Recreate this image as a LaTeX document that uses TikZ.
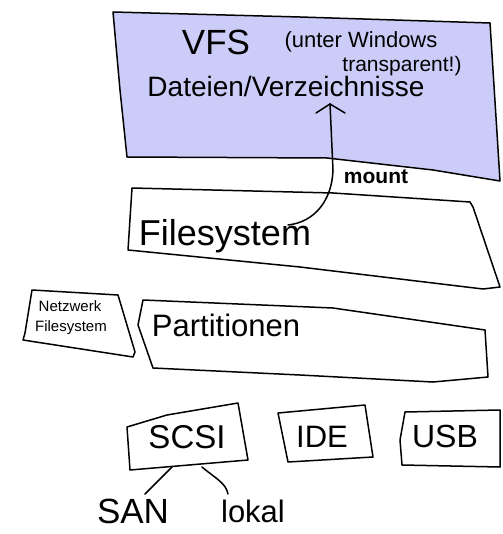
\documentclass[tikz,border=0pt]{standalone}
\usepackage{fontspec}
\setmainfont{Liberation Sans}
\usetikzlibrary{arrows.meta}
\definecolor{vfsfill}{RGB}{204,204,248}
\tikzset{
  box/.style={draw=black, line width=1.5pt, line join=round},
  lbl/.style={inner sep=0pt, text=black},
  link/.style={draw=black, line width=1.5pt, line cap=round, line join=round},
}
\begin{document}
\begin{tikzpicture}[x=1pt,y=-1pt]
\useasboundingbox (0,0) rectangle (502,534);
% boxes
\draw[box, fill=vfsfill] (113,12) -- (300,17) -- (490,23) -- (497,133) -- (500,181)
  -- (433,170) -- (327,158) -- (127,157) -- (120,90) -- cycle;
\draw[box] (132,188) -- (333,193) -- (470,202) -- (473,207) -- (500,287)
  -- (483,289) -- (300,267) -- (128,250) -- cycle;
\draw[box] (32,290) -- (118,295) -- (135,352) -- (133,357) -- (23,340) -- (25,333) -- cycle;
\draw[box] (143,300) -- (333,308) -- (485,330) -- (488,377) -- (433,382) -- (300,375)
  -- (153,368) -- (138,325) -- cycle;
\draw[box] (127,427) -- (167,415) -- (238,403) -- (248,460) -- (130,470) -- cycle;
\draw[box] (278,413) -- (365,405) -- (373,457) -- (288,462) -- cycle;
\draw[box] (405,412) -- (500,410) -- (500,467) -- (402,465) -- (400,440) -- cycle;
% texts
\node[lbl, font=\fontsize{35}{35}\selectfont] (vfs) at (216,42) {VFS};
\node[lbl, font=\fontsize{22}{22}\selectfont] (unter) at (361,42) {(unter Windows};
\node[lbl, font=\fontsize{21}{21}\selectfont] (transp) at (402,66) {transparent!)};
\node[lbl, font=\fontsize{28}{28}\selectfont] (dv) at (286,86) {Dateien/Verzeichnisse};
\node[lbl, font=\bfseries\fontsize{21}{21}\selectfont] (mount) at (376,177) {mount};
\node[lbl, font=\fontsize{36}{36}\selectfont] (fs) at (225,236) {Filesystem};
\node[lbl, font=\fontsize{15}{15}\selectfont] (nw1) at (70,306) {Netzwerk};
\node[lbl, font=\fontsize{15}{15}\selectfont] (nw2) at (71,328) {Filesystem};
\node[lbl, font=\fontsize{31}{31}\selectfont] (part) at (226,325) {Partitionen};
\node[lbl, font=\fontsize{33}{33}\selectfont] (scsi) at (187,437) {SCSI};
\node[lbl, font=\fontsize{31}{31}\selectfont] (ide) at (322,437) {IDE};
\node[lbl, font=\fontsize{32}{32}\selectfont] (usb) at (445,436) {USB};
\node[lbl, font=\fontsize{35}{35}\selectfont] (san) at (133,511) {SAN};
\node[lbl, font=\fontsize{31}{31}\selectfont] (lokal) at (253,511) {lokal};
% connectors
\coordinate (mstart) at (288,225);
\coordinate (mend) at (330,104);
\coordinate (s1) at (172,467);
\coordinate (s2) at (202,467);
\coordinate (t1) at (145,494);
\coordinate (t2) at (228,494);
\draw[link] (mstart) .. controls (315,222) and (332,200) .. (333,170) -- (mend);
\draw[link] (mend) -- ++(-14,9);
\draw[link] (mend) -- ++(15,9);
\draw[link] (s1) -- (t1);
\draw[link] (s2) .. controls (215,478) and (226,483) .. (t2);
\end{tikzpicture}
\end{document}
